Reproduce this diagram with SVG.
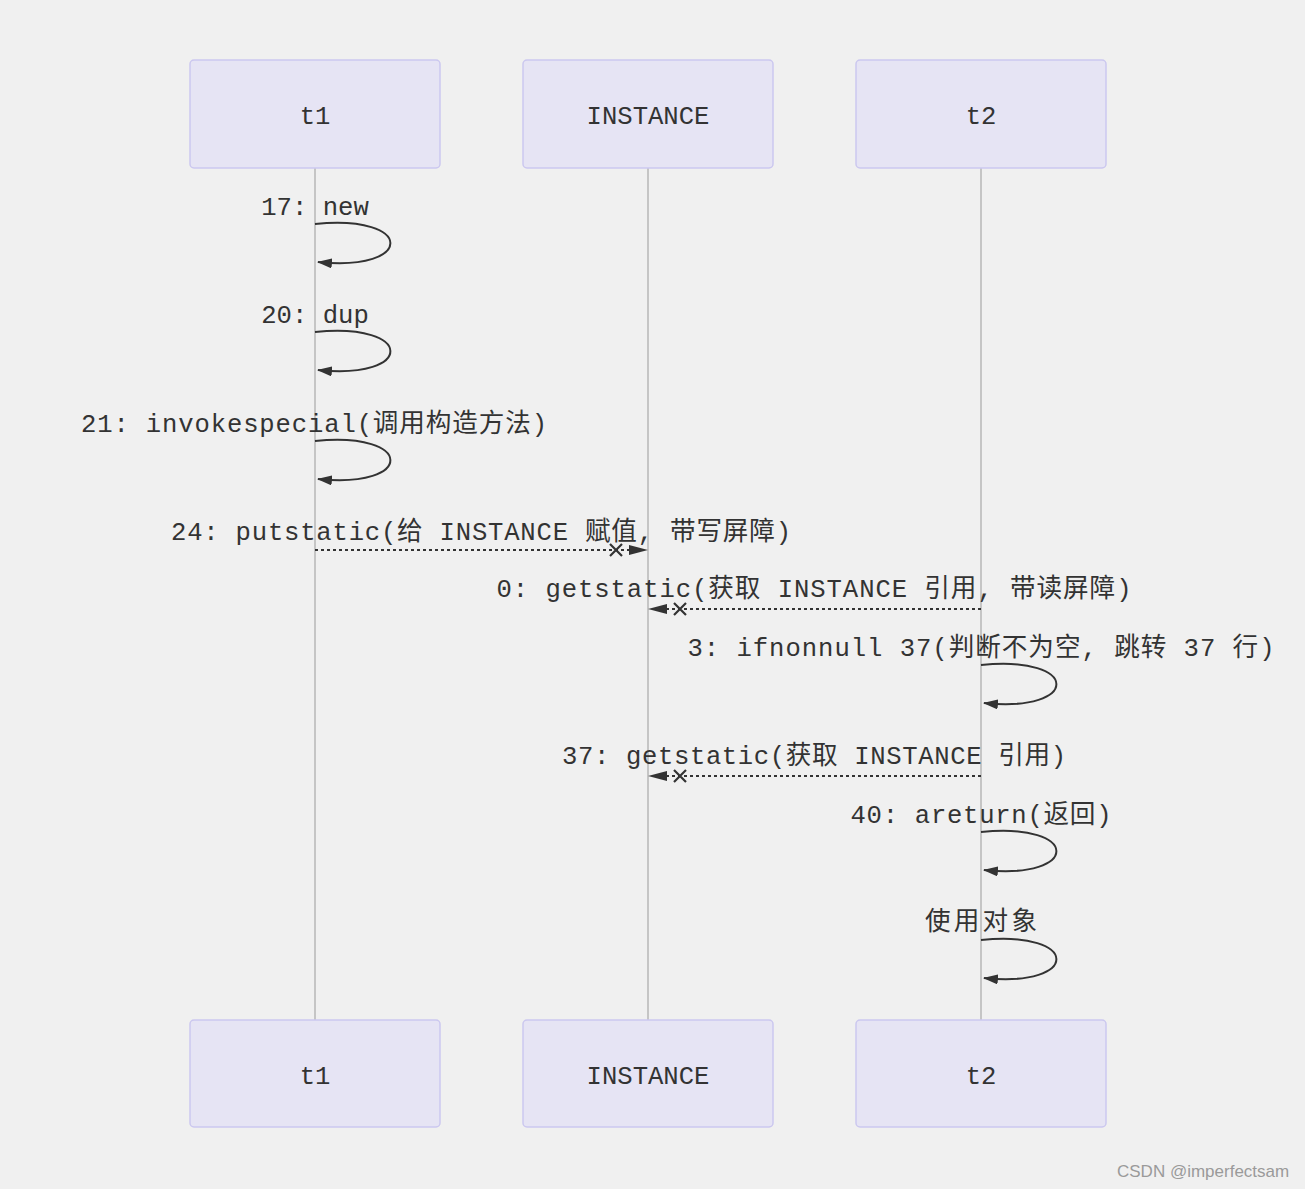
<svg xmlns="http://www.w3.org/2000/svg" width="1305" height="1189" viewBox="0 0 1305 1189">
<defs>
<style>
.bg{fill:#f0f0f0}
.actor{fill:#e6e4f4;stroke:#cbc7ef;stroke-width:1.5}
.atext{font-family:"Liberation Mono","DejaVu Sans Mono",monospace;font-size:25.6px;fill:#333;text-anchor:middle}
.life{stroke:#a8a8a8;stroke-width:1.2;fill:none}
.msg{font-family:"Liberation Mono","DejaVu Sans Mono","Noto Sans CJK SC",monospace;font-size:25.6px;fill:#333;text-anchor:middle}
.loop{fill:none;stroke:#333;stroke-width:2}
.dash{fill:none;stroke:#333;stroke-width:2;stroke-dasharray:3 3}
.cross{stroke:#333;stroke-width:2.2;fill:none}
.head{fill:#333}
.wm{font-family:"Liberation Sans",Arial,sans-serif;font-size:17px;fill:#9a9a9a}
</style>
<marker id="ah" viewBox="0 0 15 10" refX="14" refY="5" markerWidth="15" markerHeight="10" markerUnits="userSpaceOnUse" orient="auto">
<path d="M0,0 L15,5 L0,10 z" fill="#333"/>
</marker>
</defs>
<rect class="bg" x="0" y="0" width="1305" height="1189"/>

<g id="lifelines">
<line class="life" x1="315" y1="168" x2="315" y2="1020"/>
<line class="life" x1="648" y1="168" x2="648" y2="1020"/>
<line class="life" x1="981" y1="168" x2="981" y2="1020"/>
</g>

<g id="actor-t1-top"><rect class="actor" x="190" y="60" width="250" height="108" rx="4"/><text class="atext" x="315" y="124">t1</text></g>
<g id="actor-instance-top"><rect class="actor" x="523" y="60" width="250" height="108" rx="4"/><text class="atext" x="648" y="124">INSTANCE</text></g>
<g id="actor-t2-top"><rect class="actor" x="856" y="60" width="250" height="108" rx="4"/><text class="atext" x="981" y="124">t2</text></g>
<g id="actor-t1-bottom"><rect class="actor" x="190" y="1020" width="250" height="107" rx="4"/><text class="atext" x="315" y="1084">t1</text></g>
<g id="actor-instance-bottom"><rect class="actor" x="523" y="1020" width="250" height="107" rx="4"/><text class="atext" x="648" y="1084">INSTANCE</text></g>
<g id="actor-t2-bottom"><rect class="actor" x="856" y="1020" width="250" height="107" rx="4"/><text class="atext" x="981" y="1084">t2</text></g>

<g id="connectors">
<path class="loop" d="M315,224 C415,214 415,272 318,262" marker-end="url(#ah)"/>
<path class="loop" d="M315,332 C415,322 415,380 318,370" marker-end="url(#ah)"/>
<path class="loop" d="M315,441 C415,431 415,489 318,479" marker-end="url(#ah)"/>
<line class="dash" x1="315" y1="550" x2="632" y2="550"/>
<path class="cross" d="M610,544 L622,556 M622,544 L610,556"/>
<path class="head" d="M629,545 L648,550 L629,555 z"/>
<line class="dash" x1="981" y1="609" x2="665" y2="609"/>
<path class="cross" d="M674,603 L686,615 M686,603 L674,615"/>
<path class="head" d="M667,604 L648,609 L667,614 z"/>
<path class="loop" d="M981,665 C1081,655 1081,713 984,703" marker-end="url(#ah)"/>
<line class="dash" x1="981" y1="776" x2="665" y2="776"/>
<path class="cross" d="M674,770 L686,782 M686,770 L674,782"/>
<path class="head" d="M667,771 L648,776 L667,781 z"/>
<path class="loop" d="M981,832 C1081,822 1081,880 984,870" marker-end="url(#ah)"/>
<path class="loop" d="M981,940 C1081,930 1081,988 984,978" marker-end="url(#ah)"/>
</g>

<g id="labels">
<text class="msg" x="315" y="215">17: new</text>
<text class="msg" x="315" y="323">20: dup</text>
<text class="msg" x="314" y="432" textLength="466" lengthAdjust="spacing">21: invokespecial(调用构造方法)</text>
<text class="msg" x="481" y="540" textLength="620" lengthAdjust="spacing">24: putstatic(给 INSTANCE 赋值, 带写屏障)</text>
<text class="msg" x="814" y="597" textLength="635" lengthAdjust="spacing">0: getstatic(获取 INSTANCE 引用, 带读屏障)</text>
<text class="msg" x="981" y="656" textLength="587" lengthAdjust="spacing">3: ifnonnull 37(判断不为空, 跳转 37 行)</text>
<text class="msg" x="814" y="764" textLength="504" lengthAdjust="spacing">37: getstatic(获取 INSTANCE 引用)</text>
<text class="msg" x="981" y="823" textLength="261" lengthAdjust="spacing">40: areturn(返回)</text>
<text class="msg" x="981" y="930" textLength="112" lengthAdjust="spacing">使用对象</text>
</g>

<text class="wm" x="1117" y="1177">CSDN @imperfectsam</text>
</svg>
